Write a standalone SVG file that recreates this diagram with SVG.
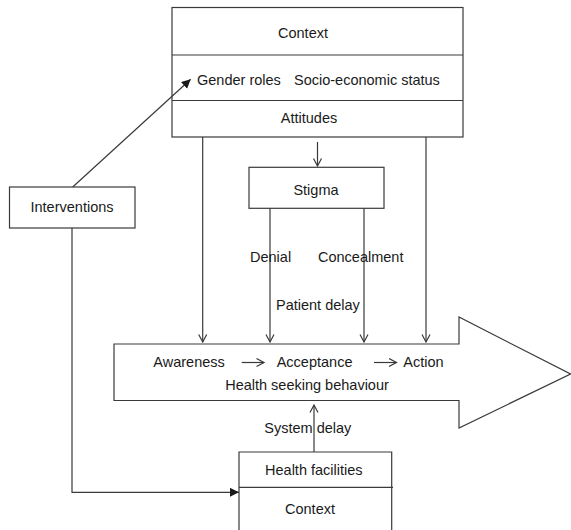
<svg xmlns="http://www.w3.org/2000/svg" width="571" height="530" viewBox="0 0 571 530">
<defs>
<style>
.box{fill:#fff;stroke:#3a3a3a;stroke-width:1.2}
.ln{fill:none;stroke:#3a3a3a;stroke-width:1.2}
text{font-family:"Liberation Sans",Arial,sans-serif;font-size:14.5px;fill:#1a1a1a}
.c{text-anchor:middle}
</style>
<marker id="open" markerWidth="12" markerHeight="12" refX="8" refY="5" orient="auto" markerUnits="userSpaceOnUse">
<path d="M0.5,1 L8,5 L0.5,9" fill="none" stroke="#3a3a3a" stroke-width="1.2"/>
</marker>
<marker id="filled" markerWidth="12" markerHeight="12" refX="9" refY="4.5" orient="auto" markerUnits="userSpaceOnUse">
<path d="M0,0 L9,4.5 L0,9 z" fill="#1a1a1a"/>
</marker>
</defs>
<rect width="571" height="530" fill="#fff"/>

<g id="health-seeking">
<polygon class="box" points="114,344 459,344 459,317 570.5,374 459,428 459,400.5 114,400.5"/>
<text x="153.3" y="367.3">Awareness</text>
<text x="276.7" y="367.3">Acceptance</text>
<text x="403.3" y="367.3">Action</text>
<text x="307" y="390" class="c">Health seeking behaviour</text>
</g>

<g id="context-top">
<rect class="box" x="172" y="7.5" width="291" height="129.5"/>
<line class="ln" x1="172" y1="55" x2="463" y2="55"/>
<line class="ln" x1="172" y1="100.5" x2="463" y2="100.5"/>
<text x="303" y="38.3" class="c">Context</text>
<text x="197" y="85">Gender roles</text>
<text x="294" y="85">Socio-economic status</text>
<text x="309" y="123.3" class="c">Attitudes</text>
</g>

<g id="interventions">
<rect class="box" x="9.5" y="187" width="125.5" height="41"/>
<text x="72" y="211.5" class="c">Interventions</text>
</g>

<g id="stigma">
<rect class="box" x="249" y="167.3" width="135" height="41"/>
<text x="316" y="195" class="c">Stigma</text>
</g>

<g id="health-facilities">
<path class="box" d="M239,535 V452 H391.7 V535"/>
<line class="ln" x1="239" y1="487.3" x2="393" y2="487.3"/>
<text x="313.8" y="475" class="c">Health facilities</text>
<text x="310" y="514" class="c">Context</text>
</g>

<g id="connectors">
<line class="ln" x1="72.7" y1="187" x2="190.7" y2="79.3" marker-end="url(#filled)"/>
<path class="ln" d="M72,228 V492.3 H239" marker-end="url(#filled)"/>
<line class="ln" x1="317.5" y1="142" x2="317.5" y2="166" marker-end="url(#open)"/>
<line class="ln" x1="202.7" y1="137" x2="202.7" y2="342" marker-end="url(#open)"/>
<line class="ln" x1="426" y1="137" x2="426" y2="342" marker-end="url(#open)"/>
<line class="ln" x1="270" y1="208.3" x2="270" y2="342" marker-end="url(#open)"/>
<line class="ln" x1="364" y1="208.3" x2="364" y2="342" marker-end="url(#open)"/>
<line class="ln" x1="314" y1="452" x2="314" y2="405" marker-end="url(#open)"/>
<line class="ln" x1="241.7" y1="362.5" x2="264" y2="362.5" marker-end="url(#open)"/>
<line class="ln" x1="374" y1="362.5" x2="396.5" y2="362.5" marker-end="url(#open)"/>
</g>

<g id="labels">
<text x="250" y="262">Denial</text>
<text x="318" y="262">Concealment</text>
<text x="276" y="310">Patient delay</text>
<text x="264.3" y="433">System delay</text>
</g>
</svg>
